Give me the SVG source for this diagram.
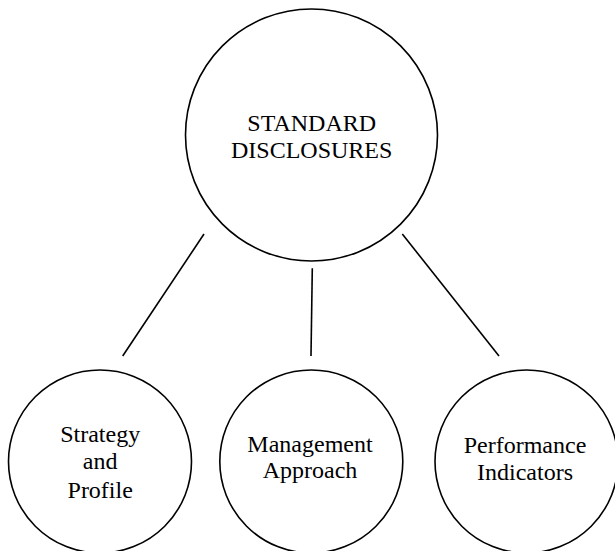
<svg xmlns="http://www.w3.org/2000/svg" width="615" height="551" viewBox="0 0 615 551">
  <style>
    .node { fill: #ffffff; stroke: #000000; stroke-width: 1.6; }
    .link { stroke: #000000; stroke-width: 1.6; fill: none; }
    .label { font-size: 24px; fill: #000000; text-anchor: middle; }
  </style>
  <rect width="615" height="551" fill="#ffffff"/>

  <g id="connectors">
    <line class="link" x1="204" y1="234" x2="122.7" y2="356"/>
    <line class="link" x1="312.3" y1="268.3" x2="311" y2="356"/>
    <line class="link" x1="402.3" y1="234" x2="499" y2="356"/>
  </g>

  <g font-family="'Liberation Serif', 'DejaVu Serif', serif">
    <g id="standard-disclosures">
      <circle class="node" cx="311.5" cy="135" r="126"/>
      <text class="label" x="311.7" y="131">STANDARD</text>
      <text class="label" x="311.7" y="157.7">DISCLOSURES</text>
    </g>

    <g id="strategy-profile">
      <circle class="node" cx="100" cy="461.5" r="91.5"/>
      <text class="label" x="100.2" y="441.7">Strategy</text>
      <text class="label" x="100.2" y="468.8">and</text>
      <text class="label" x="100.2" y="497.5">Profile</text>
    </g>

    <g id="management-approach">
      <circle class="node" cx="311.3" cy="461.5" r="91.5"/>
      <text class="label" x="310" y="451.7">Management</text>
      <text class="label" x="310" y="478.3">Approach</text>
    </g>

    <g id="performance-indicators">
      <circle class="node" cx="526.5" cy="461.5" r="91.5"/>
      <text class="label" x="525" y="453.3">Performance</text>
      <text class="label" x="525" y="480">Indicators</text>
    </g>
  </g>
</svg>
